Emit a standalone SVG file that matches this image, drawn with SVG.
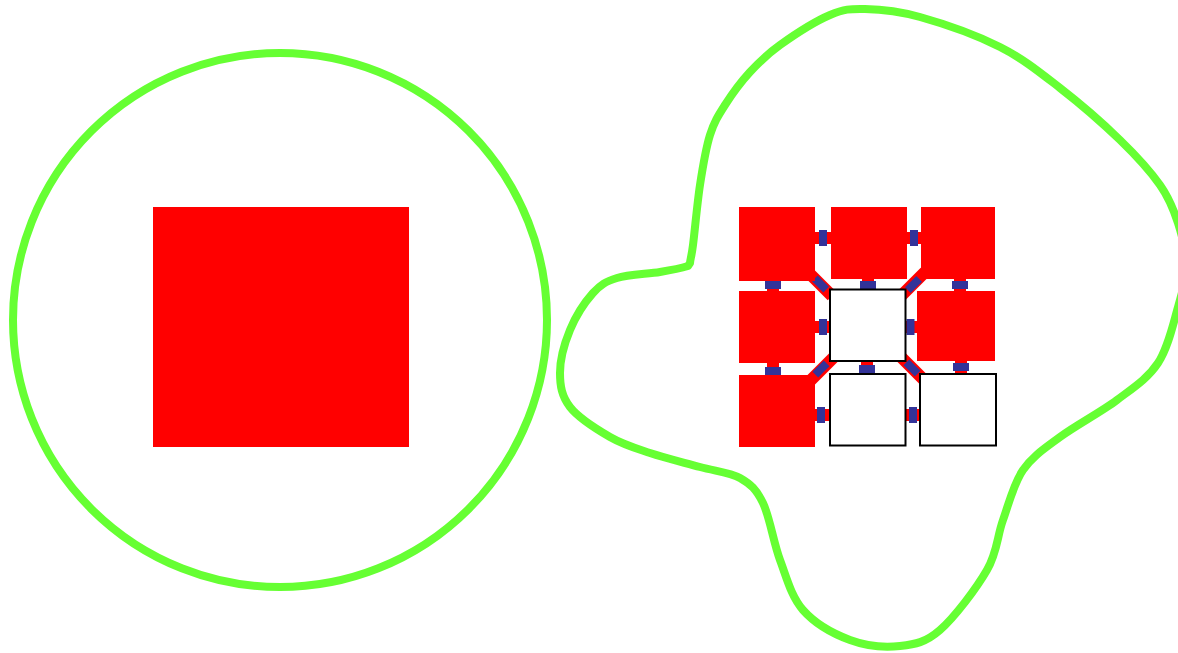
<svg xmlns="http://www.w3.org/2000/svg" width="1178" height="653" viewBox="0 0 1178 653">
<style>
.outline{fill:none;stroke:#66ff33;stroke-width:8;stroke-linejoin:round}
.red{fill:#ff0000}
.white{fill:#ffffff;stroke:#000000;stroke-width:2}
.link{stroke:#ff0000;stroke-width:12;fill:none}
.tag{fill:#333399}
</style>
<defs>
<rect id="tagH" class="tag" x="-4" y="-8" width="8" height="16"/>
<rect id="tagV" class="tag" x="-8" y="-4" width="16" height="8"/>
</defs>
<rect width="1178" height="653" fill="#ffffff"/>
<g id="circle-region">
<circle class="outline" cx="280" cy="320" r="267"/>
</g>
<g id="blob-region">
<path class="outline" d="M690,263 C690.5,258 691.3,258 693,245 S697.2,203.3 700,185 S705.8,148.3 710,135 S718.3,115.5 725,105 S740.8,82 750,72 S766.7,54.5 780,45 S815.8,21 830,15 S850,8.7 865,9 S897.5,10.7 920,17 S976.7,35.2 1000,47 S1040,72.5 1060,88 S1103.3,123.8 1120,140 S1150.3,171.2 1160,185 S1173.7,209.7 1178,223 S1186,251 1186,265 S1182.7,290.7 1178,307 S1168.2,347.5 1158,363 S1133.3,387.7 1117,400 S1075.7,425.3 1060,437 S1032.5,456.2 1023,470 S1009,503.3 1003,520 S997.5,551.7 987,570 S954.5,617.3 940,630 S915,644.3 900,646 S866.2,646 850,640 S814.7,623.3 803,610 S786.7,577.8 780,560 S769.7,516.7 763,503 S750.5,484 740,478 S715,471.2 700,467 S665,458 650,453 S623.3,444.7 610,437 S578.3,417.7 570,407 S560,385.8 560,373 S564.5,343.3 570,330 S585.2,301.7 593,293 S605.8,281.5 617,278 S648.2,274 660,272 S683,267.5 688,266 Z"/>
</g>
<g id="big-square">
<rect class="red" x="153" y="207" width="256" height="240"/>
</g>
<g id="connectors">
<line class="link" x1="810" y1="238" x2="836" y2="238"/>
<line class="link" x1="902" y1="238" x2="926" y2="238"/>
<line class="link" x1="773" y1="276" x2="773" y2="296"/>
<line class="link" x1="868" y1="276" x2="868" y2="296"/>
<line class="link" x1="960" y1="274" x2="960" y2="296"/>
<line class="link" x1="810" y1="327" x2="836" y2="327"/>
<line class="link" x1="900" y1="327" x2="922" y2="327"/>
<line class="link" x1="773" y1="358" x2="773" y2="380"/>
<line class="link" x1="867" y1="356" x2="867" y2="380"/>
<line class="link" x1="961" y1="356" x2="961" y2="380"/>
<line class="link" x1="810" y1="415" x2="836" y2="415"/>
<line class="link" x1="900" y1="415" x2="926" y2="415"/>
<line class="link" x1="808" y1="272" x2="832" y2="296"/>
<line class="link" x1="925" y1="272" x2="901" y2="296"/>
<line class="link" x1="810" y1="381" x2="834" y2="357"/>
<line class="link" x1="900" y1="356" x2="924" y2="380"/>
<use href="#tagH" x="823" y="238"/>
<use href="#tagH" x="914" y="238"/>
<use href="#tagV" x="773" y="285"/>
<use href="#tagV" x="868" y="285"/>
<use href="#tagV" x="960" y="285"/>
<use href="#tagH" x="823" y="327"/>
<use href="#tagH" x="910.5" y="327"/>
<use href="#tagV" x="773" y="371"/>
<use href="#tagV" x="867" y="369"/>
<use href="#tagV" x="961" y="367"/>
<use href="#tagH" x="821" y="415"/>
<use href="#tagH" x="913" y="415"/>
<use href="#tagH" transform="translate(820.5,284) rotate(-45)"/>
<use href="#tagH" transform="translate(913.5,284.5) rotate(45)"/>
<use href="#tagH" transform="translate(821,369) rotate(45)"/>
<use href="#tagH" transform="translate(912,368) rotate(-45)"/>
</g>
<g id="node-a"><rect class="red" x="739" y="207" width="76" height="74"/></g>
<g id="node-b"><rect class="red" x="831" y="207" width="76" height="72"/></g>
<g id="node-c"><rect class="red" x="921" y="207" width="74" height="72"/></g>
<g id="node-d"><rect class="red" x="739" y="291" width="76" height="72"/></g>
<g id="node-e"><rect class="white" x="830" y="289.5" width="75.5" height="71.5"/></g>
<g id="node-f"><rect class="red" x="917" y="291" width="78" height="70"/></g>
<g id="node-g"><rect class="red" x="739" y="375" width="76" height="72"/></g>
<g id="node-h"><rect class="white" x="830" y="374" width="75.5" height="71.5"/></g>
<g id="node-i"><rect class="white" x="920" y="374" width="76" height="71.5"/></g>
</svg>
